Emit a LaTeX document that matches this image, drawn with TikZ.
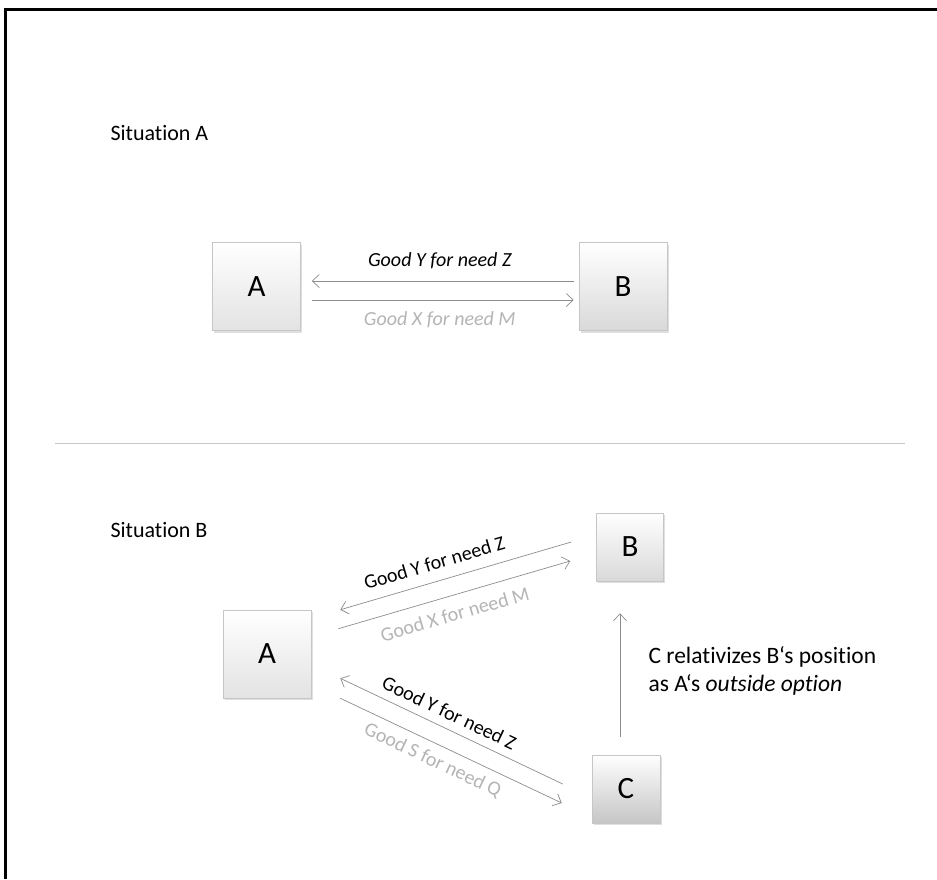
\documentclass[tikz,border=0pt]{standalone}
\usepackage{fontspec}
\setmainfont{Carlito}[Ligatures=NoCommon]
\usetikzlibrary{arrows.meta,shadows}

\definecolor{linegray}{HTML}{8C8C8C}
\definecolor{lightlabel}{HTML}{B4B4B4}

\tikzset{
  party/.style={draw=gray!45, line width=0.5pt, top color=white, bottom color=gray!22,
      minimum width=88pt, minimum height=88pt, inner sep=0pt, font=\fontsize{31}{34}\selectfont,
      drop shadow={opacity=0.25, shadow xshift=1.5pt, shadow yshift=-2pt}},
  flow/.style={draw=linegray, line width=0.7pt, ->, >={Straight Barb[length=7pt,width=13pt]}},
  goodlabel/.style={font=\fontsize{20}{24}\selectfont},
  faintlabel/.style={font=\fontsize{20}{24}\selectfont, text=lightlabel}
}

\begin{document}
\begin{tikzpicture}[x=1pt,y=-1pt]
        \useasboundingbox (0,0) rectangle (937,879);
        % frame
        \draw[line width=3pt] (5,879) -- (5,9) -- (937,9);

        % situation A
        \node[anchor=west, font=\fontsize{22}{26}\selectfont] (titleA) at (107,133) {Situation A};
        \node[party] (A1) at (256.5,286.5) {A};
        \node[party, bottom color=gray!30] (B1) at (623,286.5) {B};
        \draw[flow, shorten <=5pt, shorten >=11pt] ([yshift=5.5pt]B1.west) -- ([yshift=5.5pt]A1.east)
            node[midway, above=8pt, goodlabel] (yA) {\itshape Good Y for need Z};
        \draw[flow, shorten <=11pt, shorten >=5pt] ([yshift=-13.5pt]A1.east) -- ([yshift=-13.5pt]B1.west)
            node[midway, below=8pt, faintlabel] (xA) {\itshape Good X for need M};

        \draw[gray!45, line width=0.7pt] (55,443) -- (905,443);

        % situation B
        \node[anchor=west, font=\fontsize{22}{26}\selectfont] (titleB) at (107,530) {Situation B};
        \node[party] (A2) at (267,654) {A};
        \node[party, minimum width=67pt, minimum height=68pt, bottom color=gray!30] (B2) at (630,547) {B};
        \node[party, minimum width=68pt, minimum height=68pt, bottom color=gray!45] (C) at (626,789) {C};

        \draw[flow] ([xshift=-25pt,yshift=5pt]B2.west) -- ([xshift=29pt]A2.north east)
            node[pos=0.57, sloped, above=8pt, goodlabel] (yB) {Good Y for need Z};
        \draw[flow] ([xshift=27pt,yshift=-19pt]A2.north east) -- ([xshift=-26pt,yshift=-14pt]B2.west)
            node[pos=0.48, sloped, below=8pt, faintlabel] (xB) {Good X for need M};
        \draw[flow] ([xshift=-29pt,yshift=5pt]C.west) -- ([xshift=29pt,yshift=20pt]A2.south east)
            node[pos=0.54, sloped, above=5pt, goodlabel] (yC) {Good Y for need Z};
        \draw[flow] ([xshift=29pt]A2.south east) -- ([xshift=-30pt,yshift=-14pt]C.west)
            node[pos=0.45, sloped, below=5pt, faintlabel] (sC) {Good S for need Q};

        \draw[flow, shorten <=18pt, shorten >=32pt] ([xshift=-6pt]C.north) -- ([xshift=-10pt]B2.south);
        \node[anchor=west, align=left, font=\fontsize{23.5}{28}\selectfont] (note) at (645,671)
            {C relativizes B‘s position\\as A‘s \textit{outside option}};
      \end{tikzpicture}
\end{document}
